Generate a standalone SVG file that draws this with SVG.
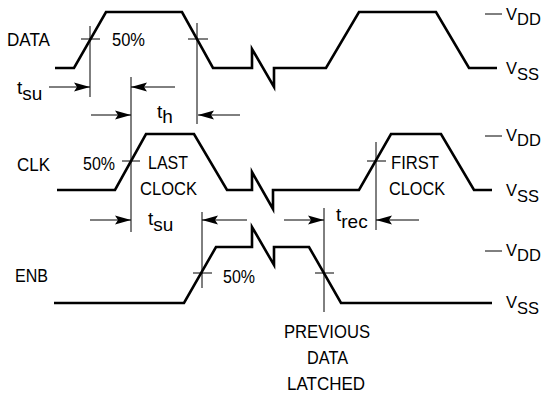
<svg xmlns="http://www.w3.org/2000/svg" width="544" height="396" viewBox="0 0 544 396">
<style>
.wave{fill:none;stroke:#000;stroke-width:2.6;stroke-linejoin:miter;stroke-linecap:butt}
.thin{fill:none;stroke:#000;stroke-width:1}
.dim{fill:none;stroke:#000;stroke-width:1;marker-end:url(#ah)}
.lbl{font-family:"Liberation Sans",Arial,sans-serif;font-size:19px;fill:#000}
.rail{font-family:"Liberation Sans",Arial,sans-serif;font-size:16.5px;fill:#000}
</style>
<defs>
<marker id="ah" markerUnits="userSpaceOnUse" viewBox="-17 -5 18 10" markerWidth="18" markerHeight="10" refX="0" refY="0" orient="auto">
<path d="M0,0 L-16,-4.5 L-13,0 L-16,4.5 Z" fill="#000"/>
</marker>
</defs>
<rect width="544" height="396" fill="#fff"/>

<g id="data">
<path class="wave" d="M55,68 H74 L106,12 H182 L213,68 H252 V49 L274,87 V68 H326 L359,12 H436 L469,68 H497"/>
<text class="lbl" x="7" y="46" textLength="43" lengthAdjust="spacingAndGlyphs">DATA</text>
<text class="lbl" x="112" y="46" textLength="33" lengthAdjust="spacingAndGlyphs">50%</text>
<path class="thin" d="M81,39 H100 M188,39 H208"/>
<path class="thin" d="M485,14 H502"/>
<text class="rail" x="506" y="20">V<tspan dy="5">DD</tspan></text>
<text class="rail" x="506" y="74">V<tspan dy="6">SS</tspan></text>
</g>

<g id="clk">
<path class="wave" d="M57,190 H115 L146,134 H194 L227,190 H252 V172 L273,209 V190 H359 L391,134 H441 L474,190 H492"/>
<text class="lbl" x="17" y="171" textLength="33" lengthAdjust="spacingAndGlyphs">CLK</text>
<text class="lbl" x="83" y="170" textLength="32" lengthAdjust="spacingAndGlyphs">50%</text>
<text class="lbl" x="148" y="169" textLength="40" lengthAdjust="spacingAndGlyphs">LAST</text>
<text class="lbl" x="140" y="195" textLength="57" lengthAdjust="spacingAndGlyphs">CLOCK</text>
<text class="lbl" x="391" y="169" textLength="48" lengthAdjust="spacingAndGlyphs">FIRST</text>
<text class="lbl" x="389" y="195" textLength="56" lengthAdjust="spacingAndGlyphs">CLOCK</text>
<path class="thin" d="M122,161 H140 M367,161 H386"/>
<path class="thin" d="M485,136 H502"/>
<text class="rail" x="506" y="141">V<tspan dy="5">DD</tspan></text>
<text class="rail" x="506" y="196">V<tspan dy="6">SS</tspan></text>
</g>

<g id="enb">
<path class="wave" d="M54,303 H184 L216,247 H252 V227 L274,265 V247 H309 L341,303 H492"/>
<text class="lbl" x="15" y="282" textLength="33" lengthAdjust="spacingAndGlyphs">ENB</text>
<text class="lbl" x="223" y="283" textLength="32" lengthAdjust="spacingAndGlyphs">50%</text>
<path class="thin" d="M193,273 H212 M315,273 H334"/>
<path class="thin" d="M485,251 H502"/>
<text class="rail" x="506" y="256">V<tspan dy="5">DD</tspan></text>
<text class="rail" x="506" y="308">V<tspan dy="6">SS</tspan></text>
<text class="lbl" x="327" y="338" text-anchor="middle" textLength="86" lengthAdjust="spacingAndGlyphs">PREVIOUS</text>
<text class="lbl" x="327.5" y="364" text-anchor="middle" textLength="41" lengthAdjust="spacingAndGlyphs">DATA</text>
<text class="lbl" x="326" y="390" text-anchor="middle" textLength="78" lengthAdjust="spacingAndGlyphs">LATCHED</text>
</g>

<g id="connectors">
<path class="thin" d="M90,26 V97 M197,23 V124 M131,77 V232 M202,212 V288 M324,208 V312 M376,142 V230"/>
<path class="dim" d="M49,87 H90"/>
<path class="dim" d="M175,87 H131"/>
<path class="dim" d="M91,115 H131"/>
<path class="dim" d="M240,115 H198"/>
<path class="dim" d="M90,220 H131"/>
<path class="dim" d="M247,220 H202"/>
<path class="dim" d="M284,220 H324"/>
<path class="dim" d="M419,220 H376"/>
<text class="lbl" x="17" y="94">t<tspan dy="6">su</tspan></text>
<text class="lbl" x="157" y="118">t<tspan dy="5">h</tspan></text>
<text class="lbl" x="148" y="225">t<tspan dy="6">su</tspan></text>
<text class="lbl" x="336" y="221">t<tspan dy="7">rec</tspan></text>
</g>
</svg>
